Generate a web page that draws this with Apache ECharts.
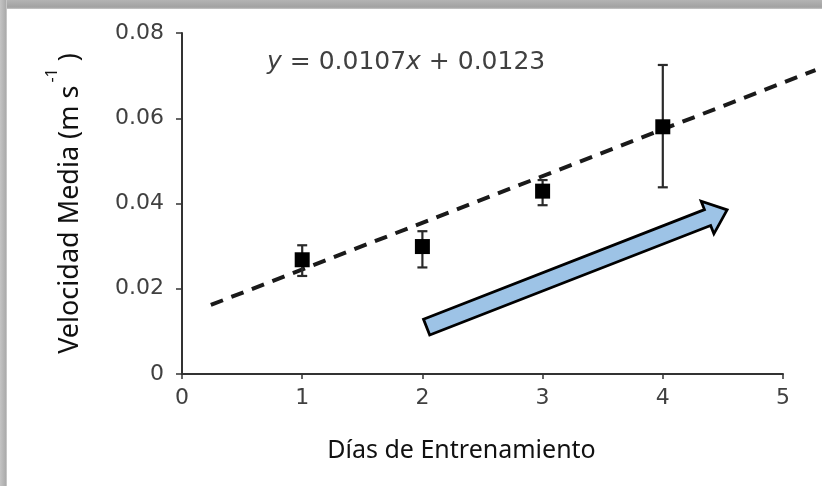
<!DOCTYPE html>
<html>
<head>
<meta charset="utf-8">
<script src="https://cdn.jsdelivr.net/npm/echarts@6/dist/echarts.min.js"></script>
<style>
  html, body { margin: 0; padding: 0; background: #fff; }
  #chart { width: 822px; height: 486px; }
</style>
</head>
<body>
<div id="chart"></div>
<script>
// ---- data ----
const days = [1, 2, 3, 4];
const meanSpeed = [0.0268, 0.0299, 0.0429, 0.0580];
const errLow = [0.0230, 0.0250, 0.0396, 0.0438];
const errHigh = [0.0302, 0.0335, 0.0455, 0.0725];
const fitX = [0.24, 5.27];
const fitY = [0.0162, 0.0713];
const xTicks = [0, 1, 2, 3, 4, 5];
const yTicks = [0, 0.02, 0.04, 0.06, 0.08];
const arrowTail = [2.035, 0.0110];
const arrowTip = [4.535, 0.0385];

const chart = echarts.init(document.getElementById('chart'), null, { renderer: 'canvas' });

const tickFont = { fontFamily: 'DejaVu Sans', fontSize: 22, color: '#404040' };
const plotLeft = 182, plotRight = 39, plotTop = 33, plotBottom = 112;
const xMax = xTicks[xTicks.length - 1];
const unitPx = (822 - plotLeft - plotRight) / xMax;
const fitAxisMax = 5.3;

const option = {
  backgroundColor: '#ffffff',
  animation: false,
  grid: [
    { left: plotLeft, right: plotRight, top: plotTop, bottom: plotBottom },
    { left: plotLeft, right: 822 - plotLeft - unitPx * fitAxisMax, top: plotTop, bottom: plotBottom }
  ],
  xAxis: [{
    type: 'value',
    min: xTicks[0], max: xMax, interval: 1,
    splitLine: { show: false },
    axisLine: { onZero: false, lineStyle: { color: '#333', width: 2 } },
    axisTick: { show: true, length: 5, lineStyle: { color: '#333', width: 1.5 } },
    axisLabel: Object.assign({ margin: 13 }, tickFont),
    name: 'Días de Entrenamiento',
    nameLocation: 'middle',
    nameGap: 64,
    nameTextStyle: { fontFamily: 'Noto Sans', fontSize: 25, color: '#111', padding: [0, 42, 0, 0] }
  }, {
    type: 'value', gridIndex: 1, min: 0, max: fitAxisMax, show: false
  }],
  yAxis: [{
    type: 'value',
    min: yTicks[0], max: yTicks[yTicks.length - 1], interval: 0.02,
    splitLine: { show: false },
    axisLine: { onZero: false, lineStyle: { color: '#333', width: 2 } },
    axisTick: { show: true, length: 6, lineStyle: { color: '#333', width: 1.5 } },
    axisLabel: Object.assign({ margin: 18 }, tickFont),
    name: '{a|Velocidad Media (m s}{sup|-1}{a| )}',
    nameLocation: 'middle',
    nameRotate: 90,
    nameGap: 98,
    nameTextStyle: {
      rich: {
        a: { fontFamily: 'Noto Sans', fontSize: 27, color: '#111', lineHeight: 40, verticalAlign: 'bottom' },
        sup: { fontFamily: 'Noto Sans', fontSize: 16, color: '#111', lineHeight: 40, verticalAlign: 'top', padding: [0, 0, 0, 3] }
      }
    }
  }, {
    type: 'value', gridIndex: 1, min: yTicks[0], max: yTicks[yTicks.length - 1], show: false
  }],
  title: {
    text: '{i|y}{n| = 0.0107}{i|x}{n| + 0.0123}',
    left: 262, top: 45,
    textStyle: {
      rich: {
        i: { fontFamily: 'DejaVu Sans', fontStyle: 'italic', fontWeight: 'normal', fontSize: 25, color: '#404040' },
        n: { fontFamily: 'DejaVu Sans', fontWeight: 'normal', fontSize: 25, color: '#404040' }
      }
    }
  },
  series: [
    {
      name: 'fit',
      type: 'line',
      xAxisIndex: 1, yAxisIndex: 1,
      data: fitX.map((x, i) => [x, fitY[i]]),
      showSymbol: false,
      symbol: 'none',
      clip: false,
      lineStyle: { color: '#1a1a1a', width: 4, type: [13, 9] },
      z: 2
    },
    {
      name: 'error',
      type: 'custom',
      data: days.map((d, i) => [d, errLow[i], errHigh[i]]),
      renderItem: function (params, api) {
        const x = api.value(0);
        const lo = api.coord([x, api.value(1)]);
        const hi = api.coord([x, api.value(2)]);
        const cap = 5;
        const st = { stroke: '#2a2a2a', lineWidth: 2.2 };
        return {
          type: 'group',
          children: [
            { type: 'line', shape: { x1: lo[0], y1: lo[1], x2: hi[0], y2: hi[1] }, style: st },
            { type: 'line', shape: { x1: lo[0] - cap, y1: lo[1], x2: lo[0] + cap, y2: lo[1] }, style: st },
            { type: 'line', shape: { x1: hi[0] - cap, y1: hi[1], x2: hi[0] + cap, y2: hi[1] }, style: st }
          ]
        };
      },
      z: 3
    },
    {
      name: 'mean',
      type: 'scatter',
      data: days.map((d, i) => [d, meanSpeed[i]]),
      symbol: 'rect',
      symbolSize: 15,
      itemStyle: { color: '#000', opacity: 1 },
      z: 4
    }
  ]
};

chart.setOption(option);

// decorative border + annotation arrow (arrow anchored in data coordinates)
const t = chart.convertToPixel({ gridIndex: 0 }, arrowTail);
const p = chart.convertToPixel({ gridIndex: 0 }, arrowTip);
const dx = p[0] - t[0], dy = p[1] - t[1];
const len = Math.sqrt(dx * dx + dy * dy);
const ux = dx / len, uy = dy / len;
const nx = -uy, ny = ux;
const shaftHalf = 8.5, headHalf = 17.5, headLen = 21;
const bx = p[0] - ux * headLen, by = p[1] - uy * headLen;
const pts = [
  [t[0] + nx * shaftHalf, t[1] + ny * shaftHalf],
  [bx + nx * shaftHalf, by + ny * shaftHalf],
  [bx + nx * headHalf, by + ny * headHalf],
  [p[0], p[1]],
  [bx - nx * headHalf, by - ny * headHalf],
  [bx - nx * shaftHalf, by - ny * shaftHalf],
  [t[0] - nx * shaftHalf, t[1] - ny * shaftHalf]
];

chart.setOption({
  graphic: [
    {
      type: 'rect', left: 0, top: 0, z: 100,
      shape: { width: 822, height: 9 },
      style: { fill: new echarts.graphic.LinearGradient(0, 0, 0, 1, [
        { offset: 0, color: '#b4b4b4' }, { offset: 0.8, color: '#a2a2a2' }, { offset: 1, color: '#c8c8c8' }
      ]) }
    },
    {
      type: 'rect', left: 0, top: 0, z: 100,
      shape: { width: 7, height: 486 },
      style: { fill: new echarts.graphic.LinearGradient(0, 0, 1, 0, [
        { offset: 0, color: '#c4c4c4' }, { offset: 0.8, color: '#acacac' }, { offset: 1, color: '#d4d4d4' }
      ]) }
    },
    {
      type: 'polygon', z: 50,
      shape: { points: pts },
      style: { fill: '#9dc3e6', stroke: '#000', lineWidth: 2.8, lineJoin: 'miter' }
    }
  ]
});
</script>
</body>
</html>
